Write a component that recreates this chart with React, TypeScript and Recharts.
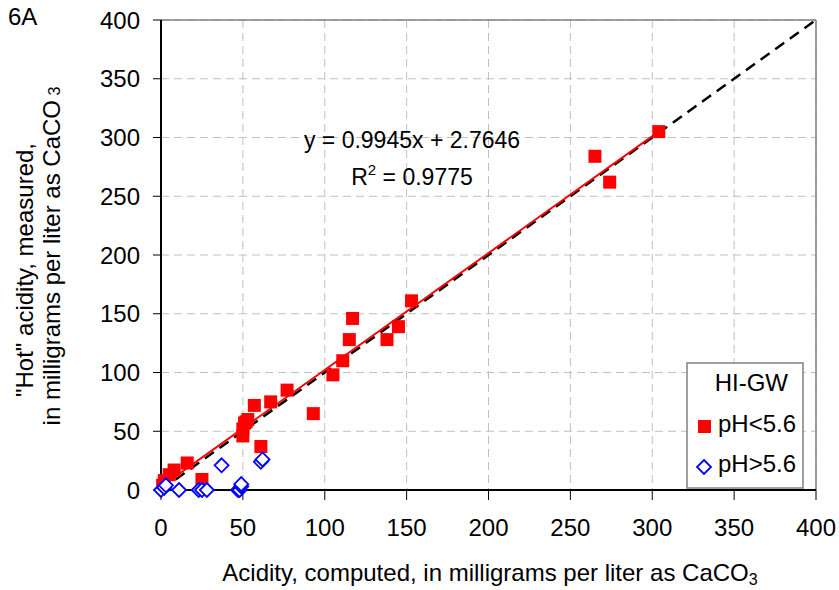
import React from "react";
import {
  ScatterChart,
  Scatter,
  XAxis,
  YAxis,
  CartesianGrid,
  ReferenceLine,
} from "recharts";

// ---- data ----
const ticks = [0, 50, 100, 150, 200, 250, 300, 350, 400];

const redComputed = [1, 2, 5, 8, 16, 25, 50, 50, 51, 53, 52, 57, 61, 67, 77, 93, 105, 111, 115, 117, 138, 145, 153, 265, 274, 304];
const redMeasured = [4, 8, 13, 17, 23, 9, 46, 52, 57, 60, 58, 72, 37, 75, 85, 65, 98, 110, 128, 146, 128, 139, 161, 284, 262, 305];

const blueComputed = [0, 2, 3, 11, 23, 25, 28, 37, 47, 48, 49, 49, 61, 62];
const blueMeasured = [0, 2, 4, 0, 0, 0, 0, 21, 0, 0, 3, 5, 24, 26];

const trendSlope = 0.9945;
const trendIntercept = 2.7646;
const trendXStart = 0;
const trendXEnd = 305;

const oneToOne = [0, 400];

const redData = redComputed.map((x, i) => ({ x, y: redMeasured[i] }));
const blueData = blueComputed.map((x, i) => ({ x, y: blueMeasured[i] }));

const FONT = "'Liberation Sans', Arial, sans-serif";

const Square = (props: any) => {
  const { cx, cy } = props;
  if (cx == null || cy == null) return null;
  return <rect x={cx - 6.5} y={cy - 6.5} width={13} height={13} fill="#ff0000" />;
};

const Diamond = (props: any) => {
  const { cx, cy } = props;
  if (cx == null || cy == null) return null;
  return (
    <path
      d={`M${cx},${cy - 7}L${cx + 7},${cy}L${cx},${cy + 7}L${cx - 7},${cy}Z`}
      fill="#ffffff"
      stroke="#0000ff"
      strokeWidth={1.8}
    />
  );
};

export default function App() {
  return (
    <div style={{ position: "absolute", left: 0, top: 0, width: 839, height: 590, background: "#fff" }}>
      <ScatterChart
        width={839}
        height={590}
        margin={{ top: 20, right: 23, left: 0, bottom: 0 }}
        style={{ fontFamily: FONT }}
      >
        <CartesianGrid stroke="#c0c0c0" strokeDasharray="8 5" />
        <XAxis
          type="number"
          dataKey="x"
          domain={[0, 400]}
          ticks={ticks}
          height={100}
          tickSize={10}
          tickMargin={19}
          axisLine={{ stroke: "#000", strokeWidth: 2 }}
          tickLine={{ stroke: "#000" }}
          tick={{ fill: "#000", fontSize: 24, fontFamily: FONT }}
          interval={0}
        />
        <YAxis
          type="number"
          dataKey="y"
          domain={[0, 400]}
          ticks={ticks}
          width={161}
          tickSize={8}
          tickMargin={13}
          axisLine={{ stroke: "#000", strokeWidth: 2 }}
          tickLine={{ stroke: "#000" }}
          tick={{ fill: "#000", fontSize: 24, fontFamily: FONT }}
          interval={0}
        />
        <ReferenceLine y={400} stroke="#808080" strokeWidth={1.5} />
        <ReferenceLine x={400} stroke="#808080" strokeWidth={1.5} />
        <ReferenceLine
          segment={[
            { x: oneToOne[0], y: oneToOne[0] },
            { x: oneToOne[1], y: oneToOne[1] },
          ]}
          stroke="#000"
          strokeWidth={2.5}
          strokeDasharray="11 7"
        />
        <ReferenceLine
          segment={[
            { x: trendXStart, y: trendSlope * trendXStart + trendIntercept },
            { x: trendXEnd, y: trendSlope * trendXEnd + trendIntercept },
          ]}
          stroke="#ff0000"
          strokeWidth={2}
        />
        <Scatter data={redData} shape={<Square />} isAnimationActive={false} />
        <Scatter data={blueData} shape={<Diamond />} isAnimationActive={false} />
      </ScatterChart>
      <svg
        width={839}
        height={590}
        style={{ position: "absolute", left: 0, top: 0, pointerEvents: "none", fontFamily: FONT }}
      >
        <text x={8} y={25} fontSize={24} fill="#000">6A</text>
        <text x={412} y={148} fontSize={23} textAnchor="middle" fill="#000">
          y = 0.9945x + 2.7646
        </text>
        <text x={412} y={185} fontSize={23} textAnchor="middle" fill="#000">
          R<tspan fontSize={15} dy={-10}>2</tspan>
          <tspan dy={10}> = 0.9775</tspan>
        </text>
        <text x={490} y={581} fontSize={24} textAnchor="middle" fill="#000">
          Acidity, computed, in milligrams per liter as CaCO<tspan fontSize={16} dy={4}>3</tspan>
        </text>
        <text x={33} y={270} fontSize={24} textAnchor="middle" fill="#000" transform="rotate(-90 33 270)">
          "Hot" acidity, measured,
        </text>
        <text x={60} y={256} fontSize={24} textAnchor="middle" fill="#000" transform="rotate(-90 60 256)">
          in milligrams per liter as CaCO<tspan fontSize={16}> 3</tspan>
        </text>
        <rect x={687} y={363} width={116} height={125} fill="#fff" stroke="#808080" strokeWidth={1.5} />
        <text x={788} y={391} fontSize={24} textAnchor="end" fill="#000">HI-GW</text>
        <rect x={698} y={420} width={13} height={13} fill="#ff0000" />
        <text x={718} y={432} fontSize={24} fill="#000">pH&lt;5.6</text>
        <path d="M704,460L711,467L704,474L697,467Z" fill="#fff" stroke="#0000ff" strokeWidth={1.8} />
        <text x={718} y={472} fontSize={24} fill="#000">pH&gt;5.6</text>
      </svg>
    </div>
  );
}
